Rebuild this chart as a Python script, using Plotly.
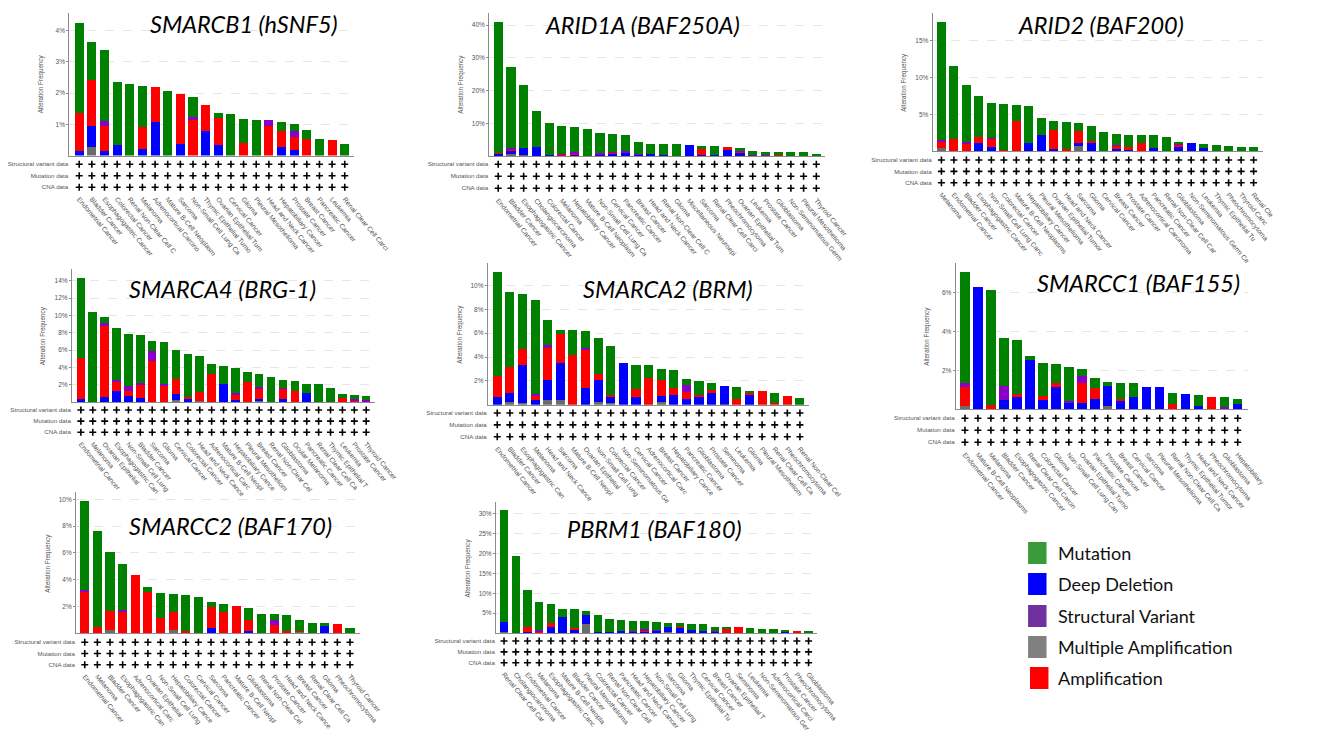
import math
import plotly.graph_objects as go

# ---------------- DATA (alteration frequency, %) ----------------
# Panel 1: SMARCB1 (hSNF5)
p1_cancers = ["Endometrial Cancer", "Bladder Cancer", "Esophagogastric Cancer", "Colorectal Cancer",
              "Renal Non-Clear Cell Carcinoma", "Melanoma", "Adrenocortical Carcinoma", "Mature B-Cell Neoplasms",
              "Sarcoma", "Non-Small Cell Lung Cancer", "Thymic Epithelial Tumor", "Ovarian Epithelial Tumor",
              "Cervical Cancer", "Glioma", "Pleural Mesothelioma", "Head and Neck Cancer", "Hepatobiliary Cancer",
              "Prostate Cancer", "Breast Cancer", "Pancreatic Cancer", "Leukemia", "Renal Clear Cell Carcinoma"]
p1_multi = [0, 0.26, 0, 0, 0, 0, 0, 0, 0, 0, 0, 0, 0, 0, 0, 0, 0, 0, 0, 0, 0, 0]
p1_del = [0.15, 0.70, 0.15, 0.33, 0, 0.21, 1.09, 0, 0.38, 0, 0.80, 0.33, 0, 0, 0, 0, 0.26, 0.19, 0, 0, 0, 0]
p1_amp = [1.21, 1.47, 0.81, 0, 0, 0.70, 1.10, 0, 1.58, 1.14, 0.81, 0.87, 0, 0.40, 0, 0.96, 0.54, 0.41, 0.54, 0, 0.49, 0]
p1_sv = [0, 0, 0.16, 0, 0, 0, 0, 0, 0, 0.09, 0, 0, 0, 0, 0, 0.18, 0, 0.20, 0, 0, 0, 0]
p1_mut = [2.90, 1.21, 2.25, 2.03, 2.29, 1.33, 0, 2.08, 0, 0.66, 0, 0.17, 1.34, 0.76, 1.14, 0, 0.27, 0.20, 0.29, 0.53, 0, 0.38]

# Panel 2: ARID1A (BAF250A)
p2_cancers = ["Endometrial Cancer", "Bladder Cancer", "Esophagogastric Cancer", "Cholangiocarcinoma",
              "Colorectal Cancer", "Melanoma", "Hepatobiliary Cancer", "Mature B-Cell Neoplasms",
              "Non-Small Cell Lung Cancer", "Cervical Cancer", "Pancreatic Cancer", "Breast Cancer",
              "Head and Neck Cancer", "Renal Non-Clear Cell Carcinoma", "Glioma",
              "Miscellaneous Neuroepithelial Tumor", "Sarcoma", "Renal Clear Cell Carcinoma", "Pheochromocytoma",
              "Ovarian Epithelial Tumor", "Leukemia", "Prostate Cancer", "Glioblastoma",
              "Non-Seminomatous Germ Cell Tumor", "Pleural Mesothelioma", "Thyroid Cancer"]
p2_multi = [0, 0.6, 0.4, 0, 0, 0, 0, 0, 0, 0, 0, 0, 0, 0, 0, 0, 0, 0, 0, 0, 0, 0, 0, 0, 0, 0]
p2_del = [0.6, 0.9, 2.0, 2.75, 0.3, 0, 0.4, 0, 0.4, 0.7, 1.0, 0.4, 0.5, 0.2, 0, 3.3, 0.3, 0.3, 2.0, 0.9, 0, 0, 0, 0, 0, 0]
p2_amp = [0.4, 0.5, 0, 0, 0, 0.4, 0.4, 0, 0, 0.3, 0, 0, 0, 0, 0, 0, 1.7, 0, 0.6, 0.5, 0, 0, 0.2, 0, 0, 0]
p2_sv = [0, 0.5, 0, 0, 0, 0.3, 0.4, 0, 0.4, 0.3, 0.4, 0.3, 0, 0, 0, 0, 0, 0, 0, 0.2, 0.3, 0.3, 0, 0, 0, 0]
p2_mut = [39.8, 24.6, 19.2, 11.15, 9.7, 8.5, 7.8, 8.4, 6.3, 5.4, 5.0, 3.7, 3.3, 3.5, 3.6, 0, 1.0, 2.8, 0, 0.7,
          1.1, 1.0, 0.9, 1.1, 1.1, 0.25]

# Panel 3: ARID2 (BAF200)
p3_cancers = ["Melanoma", "Endometrial Cancer", "Bladder Cancer", "Esophagogastric Cancer",
              "Non-Small Cell Lung Cancer", "Colorectal Cancer", "Mature B-Cell Neoplasms", "Hepatobiliary Cancer",
              "Pleural Mesothelioma", "Ovarian Epithelial Tumor", "Head and Neck Cancer", "Sarcoma", "Glioma",
              "Cervical Cancer", "Breast Cancer", "Prostate Cancer", "Adrenocortical Carcinoma", "Pancreatic Cancer",
              "Renal Non-Clear Cell Carcinoma", "Glioblastoma", "Non-Seminomatous Germ Cell Tumor", "Leukemia",
              "Thymic Epithelial Tumor", "Pheochromocytoma", "Thyroid Cancer", "Renal Clear Cell Carcinoma"]
p3_multi = [0.5, 0, 0, 0.1, 0, 0, 0, 0, 0, 0, 0, 0.77, 0, 0, 0, 0, 0, 0, 0, 0, 0, 0, 0, 0, 0, 0]
p3_del = [0, 0, 0, 0.98, 0.63, 0, 0, 1.08, 2.26, 0.32, 0, 0.36, 1.17, 0, 0.27, 0.23, 0, 0.5, 0, 0.54, 1.13, 0.5,
          0, 0, 0, 0]
p3_amp = [0.81, 1.67, 0.99, 0.86, 1.04, 0.23, 4.11, 0, 0, 2.62, 0.36, 1.58, 0.18, 0, 0.54, 0.36, 1.08, 0, 0, 0.32,
          0, 0, 0, 0, 0, 0]
p3_sv = [0.27, 0, 0.23, 0, 0.18, 0, 0, 0, 0, 0, 0, 0, 0, 0, 0.09, 0, 0, 0, 0, 0.13, 0, 0, 0, 0, 0, 0]
p3_mut = [15.9, 9.89, 7.72, 5.56, 4.75, 6.14, 2.12, 5.06, 2.3, 1.17, 3.61, 1.17, 2.13, 2.66, 1.4, 1.58, 1.09,
          1.67, 1.99, 0.32, 0, 0.49, 0.81, 0.68, 0.59, 0.59]

# Panel 4: SMARCA4 (BRG-1)
p4_cancers = ["Endometrial Cancer", "Melanoma", "Ovarian Epithelial Tumor", "Esophagogastric Cancer",
              "Non-Small Cell Lung Cancer", "Bladder Cancer", "Sarcoma", "Glioma", "Cervical Cancer",
              "Colorectal Cancer", "Head and Neck Cancer", "Adrenocortical Carcinoma", "Mature B-Cell Neoplasms",
              "Hepatobiliary Cancer", "Pleural Mesothelioma", "Breast Cancer", "Renal Non-Clear Cell Carcinoma",
              "Glioblastoma", "Ocular Melanoma", "Pancreatic Cancer", "Renal Clear Cell Carcinoma",
              "Thymic Epithelial Tumor", "Leukemia", "Prostate Cancer", "Thyroid Cancer"]
p4_multi = [0, 0, 0, 0, 0, 0, 0, 0, 0.23, 0, 0.15, 0, 0, 0, 0, 0.15, 0, 0, 0, 0, 0, 0, 0, 0, 0]
p4_del = [0.3, 0, 0.62, 1.31, 0.69, 0.42, 0, 0, 0.69, 0.42, 0, 0, 2.04, 0.27, 0, 0.23, 0, 0.31, 0, 1.08, 0, 0,
          0, 0, 0]
p4_amp = [4.74, 0, 8.15, 1.11, 0.58, 1.58, 4.69, 1.96, 1.73, 0.2, 0.97, 3.27, 0, 0.54, 2.27, 1.2, 0, 1.23, 1.27,
          0, 0, 0, 0.46, 0.19, 0]
p4_sv = [0, 0, 0.35, 0.12, 0.58, 0.19, 1.16, 0.12, 0, 0, 0, 0, 0, 0.27, 0, 0.15, 0, 0.11, 0, 0, 0, 0, 0, 0.16,
         0.19]
p4_mut = [9.31, 10.35, 0.65, 5.96, 6.03, 5.58, 1.19, 4.88, 3.35, 4.88, 4.23, 1.08, 2.08, 2.88, 1.15, 1.46, 2.85,
          0.85, 1.19, 1.04, 2.12, 1.58, 0.5, 0.42, 0.54]

# Panel 5: SMARCA2 (BRM)
p5_cancers = ["Endometrial Cancer", "Bladder Cancer", "Esophagogastric Cancer", "Melanoma", "Head and Neck Cancer",
              "Sarcoma", "Mature B-Cell Neoplasms", "Ovarian Epithelial Tumor", "Non-Small Cell Lung Cancer",
              "Colorectal Cancer", "Non-Seminomatous Germ Cell Tumor", "Cervical Cancer", "Adrenocortical Carcinoma",
              "Breast Cancer", "Hepatobiliary Cancer", "Pancreatic Cancer", "Glioblastoma", "Prostate Cancer",
              "Seminoma", "Leukemia", "Glioma", "Pleural Mesothelioma", "Renal Clear Cell Carcinoma",
              "Pheochromocytoma", "Renal Non-Clear Cell Carcinoma"]
p5_multi = [0, 0.25, 0.14, 0, 0.36, 0.36, 0, 0, 0.2, 0.17, 0, 0, 0, 0.2, 0, 0, 0, 0, 0, 0, 0, 0, 0, 0, 0]
p5_del = [0.67, 0.76, 3.22, 0.42, 1.74, 3.16, 0, 1.37, 1.84, 0.5, 3.47, 0.67, 0, 0.53, 0.81, 0.5, 0.67, 1.01,
          1.59, 0, 0.78, 0, 0, 0, 0]
p5_amp = [1.71, 2.15, 1.31, 0.28, 2.68, 2.38, 4.17, 3.25, 0.51, 0.17, 0, 0.67, 2.21, 1.37, 0.56, 0.56, 0.17,
          0.19, 0, 0.5, 0.17, 1.15, 0.17, 0.76, 0]
p5_sv = [0, 0, 0, 0.17, 0.2, 0, 0, 0.16, 0, 0, 0, 0, 0, 0, 0, 0.59, 0, 0, 0, 0, 0, 0, 0, 0, 0]
p5_mut = [8.72, 6.32, 4.64, 7.91, 2.1, 0.37, 2.07, 1.37, 3.04, 4.06, 0, 2.02, 1.09, 0.89, 1.57, 0.5, 1.17, 0.62,
          0, 0.98, 0.2, 0, 0.81, 0, 0.56]

# Panel 6: SMARCC1 (BAF155)
p6_cancers = ["Endometrial Cancer", "Mature B-Cell Neoplasms", "Melanoma", "Bladder Cancer",
              "Esophagogastric Cancer", "Renal Clear Cell Carcinoma", "Colorectal Cancer", "Glioma",
              "Non-Small Cell Lung Cancer", "Ovarian Epithelial Tumor", "Pancreatic Cancer", "Prostate Cancer",
              "Breast Cancer", "Cervical Cancer", "Sarcoma", "Pleural Mesothelioma",
              "Renal Non-Clear Cell Carcinoma", "Thymic Epithelial Tumor", "Head and Neck Cancer",
              "Pheochromocytoma", "Glioblastoma", "Hepatobiliary Cancer"]
p6_multi = [0.15, 0, 0, 0, 0, 0, 0, 0, 0, 0, 0, 0.17, 0, 0, 0, 0, 0, 0, 0, 0, 0, 0]
p6_del = [0, 6.27, 0, 0.46, 0.63, 2.53, 0.48, 1.15, 0.34, 0.34, 0.53, 1.03, 0.44, 0.65, 1.16, 1.13, 0, 0.8, 0.17,
          0, 0, 0.26]
p6_amp = [1.01, 0, 0.21, 0, 0.16, 0, 0.19, 0.22, 0, 1.03, 0.55, 0, 0.11, 0, 0, 0, 0.27, 0, 0, 0.65, 0, 0]
p6_sv = [0.19, 0, 0, 0.74, 0, 0, 0, 0, 0.1, 0.32, 0, 0, 0, 0, 0, 0, 0, 0, 0, 0, 0.14, 0]
p6_mut = [5.68, 0, 5.89, 2.46, 2.75, 0.22, 1.69, 0.95, 1.73, 0.36, 0.54, 0.2, 0.82, 0.68, 0, 0, 0.58, 0, 0.58, 0,
          0.51, 0.25]

# Panel 7: SMARCC2 (BAF170)
p7_cancers = ["Endometrial Cancer", "Melanoma", "Bladder Cancer", "Esophagogastric Cancer",
              "Adrenocortical Carcinoma", "Ovarian Epithelial Tumor", "Non-Small Cell Lung Cancer",
              "Hepatobiliary Cancer", "Colorectal Cancer", "Cervical Cancer", "Sarcoma", "Pancreatic Cancer",
              "Mature B-Cell Neoplasms", "Glioblastoma", "Renal Non-Clear Cell Carcinoma", "Prostate Cancer",
              "Head and Neck Cancer", "Breast Cancer", "Renal Clear Cell Carcinoma", "Glioma", "Pheochromocytoma",
              "Thyroid Cancer"]
p7_multi = [0, 0, 0.25, 0, 0, 0, 0, 0.25, 0, 0, 0, 0, 0, 0, 0, 0, 0, 0.1, 0, 0, 0, 0]
p7_del = [0, 0, 0, 0, 0, 0, 0, 0, 0, 0, 0.4, 0, 0, 0.15, 0, 0, 0, 0, 0, 0.57, 0, 0]
p7_amp = [3.08, 0.45, 1.44, 1.61, 4.37, 3.08, 1.14, 1.36, 0.15, 0, 1.54, 1.61, 2.06, 0.84, 0, 0.6, 0.15, 0.07, 0,
          0, 0.67, 0]
p7_sv = [0.17, 0, 0, 0.15, 0, 0, 0, 0, 0, 0, 0, 0, 0, 0, 0, 0.39, 0, 0, 0, 0, 0, 0]
p7_mut = [6.64, 7.2, 4.4, 3.38, 0, 0.35, 1.89, 1.32, 2.71, 2.68, 0.42, 0.58, 0, 0.87, 1.44, 0.45, 1.19, 0.82,
          0.77, 0.2, 0, 0.4]

# Panel 8: PBRM1 (BAF180)
p8_cancers = ["Renal Clear Cell Carcinoma", "Cholangiocarcinoma", "Endometrial Cancer", "Melanoma",
              "Esophagogastric Cancer", "Mature B-Cell Neoplasms", "Bladder Cancer", "Pleural Mesothelioma",
              "Colorectal Cancer", "Renal Non-Clear Cell Carcinoma", "Pancreatic Cancer", "Head and Neck Cancer",
              "Hepatobiliary Cancer", "Non-Small Cell Lung Cancer", "Sarcoma", "Glioma", "Thymic Epithelial Tumor",
              "Cervical Cancer", "Breast Cancer", "Ovarian Epithelial Tumor", "Seminoma", "Leukemia",
              "Non-Seminomatous Germ Cell Tumor", "Adrenocortical Carcinoma", "Prostate Cancer",
              "Pheochromocytoma", "Glioblastoma"]
p8_multi = [0.34, 0, 0, 0, 0, 0, 0, 2.35, 0, 0, 0, 0, 0, 0, 0.17, 0, 0, 0, 0, 0, 0, 0, 0, 0, 0, 0, 0]
p8_del = [2.35, 0, 0.34, 0, 1.6, 4.03, 0.76, 2.19, 0.34, 0.25, 0.42, 0.34, 0.34, 0.5, 1.26, 1.26, 0.67, 0.59,
          0.25, 0, 0, 0, 0, 0, 0.25, 0, 0]
p8_amp = [0, 0, 1.26, 0.34, 0.92, 0, 0.58, 0, 0, 0, 0, 0, 0.25, 0, 0, 0.25, 0, 0, 0, 1.18, 1.43, 0, 0, 0, 0,
          0.59, 0]
p8_sv = [0, 0, 0, 0.33, 0, 0, 0, 0, 0, 0, 0, 0.16, 0.33, 0.17, 0, 0, 0, 0, 0.25, 0, 0, 0, 0, 0, 0, 0, 0]
p8_mut = [28.2, 19.4, 9.16, 7.06, 4.79, 2.1, 4.63, 1.09, 4.11, 3.36, 2.77, 2.44, 2.02, 2.1, 1.18, 1.1, 1.68,
          1.68, 1.1, 0.42, 0, 1.34, 1.0, 0.92, 0.42, 0, 0.34]

gene_titles = ["SMARCB1 (hSNF5)", "ARID1A (BAF250A)", "ARID2 (BAF200)", "SMARCA4 (BRG-1)",
               "SMARCA2 (BRM)", "SMARCC1 (BAF155)", "SMARCC2 (BAF170)", "PBRM1 (BAF180)"]
data_rows = ["CNA data", "Mutation data", "Structural variant data"]
legend_labels = ["Mutation", "Deep Deletion", "Structural Variant", "Multiple Amplification", "Amplification"]
p1_ticks = [1, 2, 3, 4]
p2_ticks = [10, 20, 30, 40]
p3_ticks = [5, 10, 15]
p4_ticks = [2, 4, 6, 8, 10, 12, 14]
p5_ticks = [2, 4, 6, 8, 10]
p6_ticks = [2, 4, 6]
p7_ticks = [2, 4, 6, 8, 10]
p8_ticks = [5, 10, 15, 20, 25, 30]

panels_data = [
    (p1_cancers, p1_multi, p1_del, p1_amp, p1_sv, p1_mut, p1_ticks),
    (p2_cancers, p2_multi, p2_del, p2_amp, p2_sv, p2_mut, p2_ticks),
    (p3_cancers, p3_multi, p3_del, p3_amp, p3_sv, p3_mut, p3_ticks),
    (p4_cancers, p4_multi, p4_del, p4_amp, p4_sv, p4_mut, p4_ticks),
    (p5_cancers, p5_multi, p5_del, p5_amp, p5_sv, p5_mut, p5_ticks),
    (p6_cancers, p6_multi, p6_del, p6_amp, p6_sv, p6_mut, p6_ticks),
    (p7_cancers, p7_multi, p7_del, p7_amp, p7_sv, p7_mut, p7_ticks),
    (p8_cancers, p8_multi, p8_del, p8_amp, p8_sv, p8_mut, p8_ticks),
]

# ---------------- LAYOUT (pixels of the 1338x744 window) ----------------
PAGE_W, PAGE_H = 1338, 744
OFF = 8                      # default body margin of the page
W, H = PAGE_W - 2 * OFF, PAGE_H - 2 * OFF
def fx(px):
    return (px - OFF) / W
def fy(py):
    return 1 - (py - OFF) / H

layout_px = [
    dict(l=68, r=361, base=155.5, top=13, ymax=4.57, xr=[-0.79, 21.7], gt=158.5, gb=193.0, tx=248, ty=24, mc=22),
    dict(l=500.7, r=847, base=156, top=13.3, ymax=43.6, xr=[-0.71, 25.7], gt=158.3, gb=194.3, tx=659, ty=25, mc=22),
    dict(l=957.7, r=1298.3, base=151.3, top=13.3, ymax=18.7, xr=[-0.70, 25.77], gt=154.3, gb=188.4, tx=1131, ty=25, mc=24),
    dict(l=70.7, r=383.3, base=402, top=269, ymax=15.35, xr=[-0.76, 24.76], gt=404.4, gb=437.9, tx=226, ty=289, mc=19),
    dict(l=499.3, r=830, base=404.7, top=263.3, ymax=11.86, xr=[-0.75, 24.7], gt=407.1, gb=442.6, tx=685, ty=289, mc=19),
    dict(l=981.3, r=1282.3, base=409.3, top=263.3, ymax=7.49, xr=[-0.72, 21.77], gt=412.3, gb=448.3, tx=1170, ty=283, mc=23),
    dict(l=75, r=367.7, base=633.3, top=492.3, ymax=10.52, xr=[-0.69, 21.8], gt=636.7, gb=670.3, tx=234, ty=526, mc=29),
    dict(l=507.7, r=839, base=633, top=502.3, ymax=32.9, xr=[-0.69, 26.76], gt=635.6, gb=668.2, tx=671, ty=529, mc=29),
]

LABEL_ANGLE = 50
CHAR_W = 3.6          # approx. average glyph width of the 6.8px label font
RIGHT_LIMIT = PAGE_W - OFF - 8
BOTTOM_LIMIT = PAGE_H - OFF - 6
C_MULTI, C_DEL, C_AMP, C_SV, C_MUT = "#6b6b6b", "#0000ff", "#ff0000", "#8a00c8", "#008000"
SMALL = "Liberation Sans, Arial, sans-serif"
GREY = "#555555"


def fit_label(text, i, L):
    """Shorten a rotated category label so nothing runs past the page (the reference is cropped there)."""
    span = L["xr"][1] - L["xr"][0]
    tick_px = L["l"] + (i - L["xr"][0]) * (L["r"] - L["l"]) / span
    a = math.radians(LABEL_ANGLE)
    # keep both the rotated and the unrotated text box inside the page
    room_x = min((RIGHT_LIMIT - tick_px) / math.cos(a), RIGHT_LIMIT - tick_px)
    room_y = (BOTTOM_LIMIT - (L["gb"] + 6)) / math.sin(a)
    max_chars = min(L["mc"], int(min(room_x, room_y) / CHAR_W))
    return text if len(text) <= max_chars else text[:max_chars]


fig = go.Figure()
layout_updates = {}
annotations = []
shapes = []

for k, (cats, multi, dele, amp, sv, mut, yt) in enumerate(panels_data):
    L = layout_px[k]
    bi = 2 * k + 1
    gi = 2 * k + 2
    bx = "x" if bi == 1 else f"x{bi}"
    by = "y" if bi == 1 else f"y{bi}"
    gx, gy = f"x{gi}", f"y{gi}"
    for vals, col, nm in [(multi, C_MULTI, "Multiple Amplification"), (dele, C_DEL, "Deep Deletion"),
                          (amp, C_AMP, "Amplification"), (sv, C_SV, "Structural Variant"),
                          (mut, C_MUT, "Mutation")]:
        fig.add_trace(go.Bar(x=cats, y=vals, marker=dict(color=col, line=dict(width=0)), name=nm,
                             showlegend=False, xaxis=bx, yaxis=by))
    # "+" grid rows
    for row in data_rows:
        fig.add_trace(go.Scatter(x=cats, y=[row] * len(cats), mode="markers",
                                 marker=dict(symbol="cross-thin", size=5, color="black",
                                             line=dict(width=1.6, color="black")),
                                 showlegend=False, xaxis=gx, yaxis=gy, hoverinfo="skip"))

    xd = [fx(L["l"]), fx(L["r"])]
    ticktext = [fit_label(c, i, L) for i, c in enumerate(cats)]
    kb = "xaxis" if bi == 1 else f"xaxis{bi}"
    kyb = "yaxis" if bi == 1 else f"yaxis{bi}"
    layout_updates[kb] = dict(domain=xd, anchor=by, type="category", categoryorder="array", categoryarray=cats,
                              range=L["xr"], showticklabels=False, ticks="", showline=True,
                              linecolor="#8c8c8c", linewidth=1, showgrid=False, zeroline=False)
    layout_updates[kyb] = dict(domain=[fy(L["base"]), fy(L["top"])], anchor=bx, range=[0, L["ymax"]],
                               tickmode="array", tickvals=yt, ticktext=[f"{v}%" for v in yt],
                               ticks="outside", ticklen=2,
                               tickcolor="#8c8c8c", tickfont=dict(family=SMALL, size=6.5, color=GREY),
                               showline=True, linecolor="#8c8c8c", linewidth=1, showgrid=True,
                               gridcolor="#e6e6e6", griddash="dash", gridwidth=0.8, zeroline=False)
    layout_updates[f"xaxis{gi}"] = dict(domain=xd, anchor=gy, type="category", categoryorder="array",
                                        categoryarray=cats, range=L["xr"], tickmode="array", tickvals=cats,
                                        ticktext=ticktext, tickangle=LABEL_ANGLE, ticks="", showline=False,
                                        showgrid=False, zeroline=False,
                                        tickfont=dict(family=SMALL, size=6.8, color=GREY))
    layout_updates[f"yaxis{gi}"] = dict(domain=[fy(L["gb"]), fy(L["gt"])], anchor=gx, type="category",
                                        categoryorder="array", categoryarray=data_rows, range=[-0.5, 2.5],
                                        ticks="", showline=False, showgrid=False, zeroline=False,
                                        tickfont=dict(family=SMALL, size=6.2, color=GREY))
    # gene title
    annotations.append(dict(x=fx(L["tx"]), y=fy(L["ty"]), xref="paper", yref="paper", text=f"<i>{gene_titles[k]}</i>",
                            showarrow=False, xanchor="center", yanchor="middle",
                            font=dict(family="Lato, Open Sans, sans-serif", size=23.5, color="black")))
    # y-axis title
    annotations.append(dict(x=fx(L["l"] - 29), y=fy((L["base"] + L["top"]) / 2), xref="paper", yref="paper",
                            text="Alteration Frequency", textangle=-90, showarrow=False,
                            xanchor="center", yanchor="middle",
                            font=dict(family=SMALL, size=6.3, color=GREY)))

# ---------------- legend (drawn) ----------------
leg_colors = ["#3a9a3a", "#0000ff", "#7030a0", "#808080", "#ff0000"]
leg_boxes = [(1056, 542, 1075, 564), (1056, 573, 1075, 595), (1056, 605, 1075, 627),
             (1056, 636, 1075, 658), (1058, 667, 1077, 689)]
for lab, col, (x0, y0, x1, y1) in zip(legend_labels, leg_colors, leg_boxes):
    shapes.append(dict(type="rect", xref="paper", yref="paper", x0=fx(x0), x1=fx(x1), y0=fy(y1), y1=fy(y0),
                       fillcolor=col, line=dict(width=0)))
    annotations.append(dict(x=fx(1085), y=fy((y0 + y1) / 2), xref="paper", yref="paper", text=lab,
                            showarrow=False, xanchor="left", yanchor="middle",
                            font=dict(family="Lato, Open Sans, sans-serif", size=18, color="#111111")))

fig.update_layout(**layout_updates)
fig.update_layout(width=W, height=H, margin=dict(l=0, r=0, t=0, b=0), barmode="stack", bargap=0.28,
                  plot_bgcolor="white", paper_bgcolor="white", showlegend=False,
                  annotations=annotations, shapes=shapes)

fig.write_html("out.html")
